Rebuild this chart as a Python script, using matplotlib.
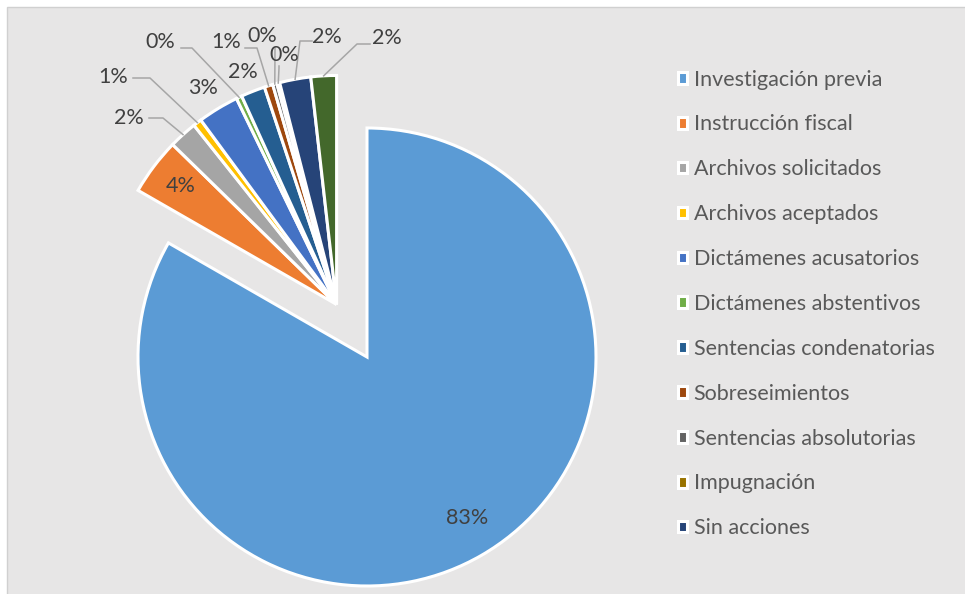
import numpy as np
import matplotlib.pyplot as plt
from matplotlib.patches import Rectangle

plt.rcParams['font.family'] = ['Lato', 'DejaVu Sans']

# --- Datos ---
categorias = [
    "Investigación previa", "Instrucción fiscal", "Archivos solicitados",
    "Archivos aceptados", "Dictámenes acusatorios", "Dictámenes abstentivos",
    "Sentencias condenatorias", "Sobreseimientos", "Sentencias absolutorias",
    "Impugnación", "Sin acciones", "Otros",
]
porcentajes = [83.3, 4.0, 2.0, 0.6, 2.9, 0.4, 1.7, 0.6, 0.3, 0.2, 2.2, 1.8]
colores = ["#5B9BD5", "#ED7D31", "#A5A5A5", "#FFC000", "#4472C4", "#70AD47",
           "#255E91", "#9E480E", "#636363", "#997300", "#264478", "#43682B"]
n_leyenda = 11  # la última categoría no entra en la leyenda

W, H = 965, 594
CX, CY, R = 367, 357, 229  # centro y radio del pastel en píxeles


def px(x, y):
    """Convierte píxeles de la imagen a coordenadas de datos."""
    return (x - CX) / R, (CY - y) / R


fig = plt.figure(figsize=(W / 100, H / 100), dpi=100)
fig.patch.set_facecolor("white")

# fondo gris del área del gráfico
fondo = fig.add_axes([0, 0, 1, 1], zorder=-5)
fondo.set_xlim(0, W)
fondo.set_ylim(H, 0)
fondo.add_patch(Rectangle((7, 7), W, H, facecolor="#E7E6E6", edgecolor="#D0D0D0", lw=1))
fondo.axis("off")

ax = fig.add_axes([0, 0, 1, 1])
ax.set_facecolor("none")

cunas, _ = ax.pie(porcentajes, colors=colores, startangle=90, counterclock=False,
                  radius=1.0, wedgeprops=dict(edgecolor="white", linewidth=2.2))

# Separar el grupo de porciones pequeñas a lo largo de su bisectriz común
frac_grande = porcentajes[0] / sum(porcentajes)
bis = np.deg2rad(-90 - 180 * frac_grande)
desp = 0.265
dx, dy = desp * np.cos(bis), desp * np.sin(bis)
for c in cunas[1:]:
    c.set_center((dx, dy))

# Etiquetas de datos
etiquetas = [f"{round(p):d}%" for p in porcentajes]
pos_etiq = [(467, 518), (181, 186), (129, 118), (113, 77), (203, 88), (160, 42),
            (243, 72), (226, 42), (262, 36), (284, 55), (327, 37), (387, 38)]
# codos de las líneas guía (None = sin línea)
codos = [None, None, [(149, 118), (163, 118)], [(133, 78), (150, 78)], None,
         [(181, 48), (192, 48)], None, [(245, 48), (257, 48)], [(275, 48), (275, 50)],
         [(279, 66), (279, 68)], [(312, 41), (300, 41)], [(370, 44), (357, 44)]]

for i, c in enumerate(cunas):
    x, y = px(*pos_etiq[i])
    ax.text(x, y, etiquetas[i], ha="center", va="center", fontsize=15.5, color="#404040")
    if codos[i] is not None:
        th = np.deg2rad((c.theta1 + c.theta2) / 2)
        cx, cy = c.center
        fin = (cx + 1.0 * np.cos(th), cy + 1.0 * np.sin(th))
        pts = [px(*p) for p in codos[i]] + [fin]
        xs, ys = zip(*pts)
        ax.plot(xs, ys, color="#A6A6A6", lw=1.1, zorder=1)

ax.legend(cunas[:n_leyenda], categorias[:n_leyenda], loc="upper left",
          bbox_to_anchor=(669 / W, 1 - 61 / H), frameon=False, fontsize=15.5,
          labelcolor="#595959", handlelength=0.45, handleheight=0.45,
          handletextpad=0.3, labelspacing=1.155, borderaxespad=0)

ax.set_xlim(-CX / R, (W - CX) / R)
ax.set_ylim(-(H - CY) / R, CY / R)
ax.set_aspect("auto")
ax.axis("off")

fig.savefig("out.png", dpi=100)
